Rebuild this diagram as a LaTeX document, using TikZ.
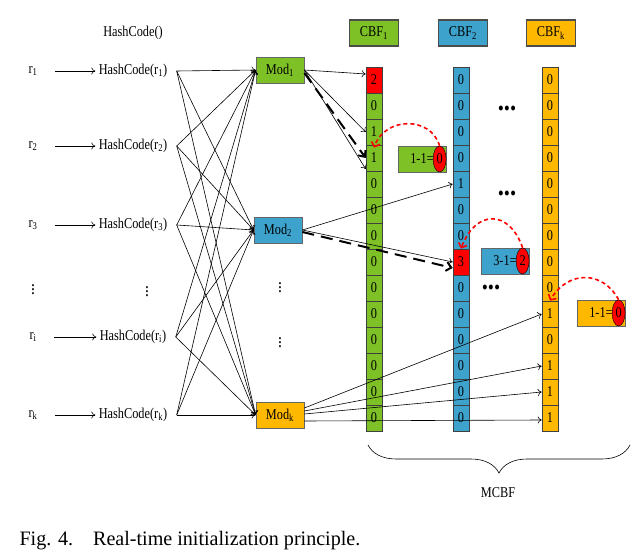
\documentclass[tikz,border=0pt]{standalone}
\usepackage{fontspec}
\setmainfont[FakeStretch=0.82]{Liberation Serif}
\newfontfamily\capfont[FakeStretch=0.98]{Liberation Serif}
\usetikzlibrary{positioning,arrows.meta,shapes.geometric,decorations.pathreplacing}

\definecolor{cbfgreen}{RGB}{126,193,38}
\definecolor{cbfblue}{RGB}{61,163,204}
\definecolor{cbforange}{RGB}{255,184,0}

\tikzset{
  cell/.style={draw=black!75, line width=0.6pt, minimum width=16pt, minimum height=26pt, inner sep=0pt},
  modbox/.style={draw=black!60, line width=0.8pt, minimum width=48pt, minimum height=26pt, inner sep=0pt},
  headbox/.style={draw=black!70, line width=1.2pt, minimum width=49pt, minimum height=26pt, inner sep=0pt},
  resetbox/.style={draw=black!60, line width=0.6pt, minimum width=48pt, minimum height=26pt, inner sep=0pt},
  zero/.style={ellipse, draw=black, fill=red, minimum width=13pt, minimum height=26pt, inner sep=0pt},
  hit/.style={->, line width=0.6pt},
  del/.style={-{Straight Barb[length=5pt,width=9pt]}, line width=2pt, dash pattern=on 12pt off 7pt},
  undo/.style={-{Straight Barb[length=4pt,width=9pt]}, red, line width=1.6pt, dash pattern=on 4pt off 3pt},
  dotrow/.style={font=\fontsize{30}{30}\selectfont\bfseries, inner sep=0pt},
  vdotsnode/.style={font=\fontsize{19}{19}\selectfont, inner sep=0pt}
}

\begin{document}
\begin{tikzpicture}[x=1pt, y=-1pt, >={To[length=4pt,width=7pt]}, font=\fontsize{15}{18}\selectfont, node distance=100pt]
  \useasboundingbox (0,0) rectangle (638,556);

  % keys and hash codes
  \node (hc) at (133,33) {HashCode()};
  \node (r1) at (33,71)  {r\textsubscript{1}};
  \node (r2) at (33,146) {r\textsubscript{2}};
  \node (r3) at (33,225) {r\textsubscript{3}};
  \node[vdotsnode] (rd) at (33,287) {$\vdots$};
  \node (ri) at (33,337) {r\textsubscript{i}};
  \node (rk) at (33,415) {r\textsubscript{k}};
  \node (h1) [right of=r1] {HashCode(r\textsubscript{1})};
  \node (h2) [right of=r2] {HashCode(r\textsubscript{2})};
  \node (h3) [right of=r3] {HashCode(r\textsubscript{3})};
  \node[vdotsnode] (hd) at (147,289)  {$\vdots$};
  \node (hi) [right of=ri] {HashCode(r\textsubscript{i})};
  \node (hk) [right of=rk] {HashCode(r\textsubscript{k})};

  \foreach \r/\h in {r1/h1,r2/h2,r3/h3,ri/hi,rk/hk}
    \draw[hit, shorten <=14pt] (\r.east) -- (\h.west);

  % modulo units
  \node[modbox, fill=cbfgreen]  (m1) at (280,70)  {Mod\textsubscript{1}};
  \node[modbox, fill=cbfblue]   (m2) at (278,230) {Mod\textsubscript{2}};
  \node[modbox, fill=cbforange] (mk) at (280,415) {Mod\textsubscript{k}};
  \node[vdotsnode] (md1) at (280,285) {$\vdots$};
  \node[vdotsnode] (md2) at (280,340) {$\vdots$};

  \foreach \h in {h1,h2,h3,hi,hk}
    \foreach \m in {m1,m2,mk}
      \draw[hit] ([xshift=6pt]\h.east) -- (\m.west);

  % counting bloom filters
  \node[headbox, fill=cbfgreen]  (t1) at (374,33) {CBF\textsubscript{1}};
  \node[headbox, fill=cbfblue]   (t2) at (463,33) {CBF\textsubscript{2}};
  \node[headbox, fill=cbforange] (tk) at (551,33) {CBF\textsubscript{k}};

  \node[cell, fill=red] (a0) at (374,80) {2};
  \foreach \v [count=\i from 1] in {0,1,1,0,0,0,0,0,0,0,0,0,0}
    \node[cell, fill=cbfgreen] (a\i) at (374,80+26*\i) {\v};

  \foreach \v [count=\i from 0] in {0,0,0,0,1,0,0}
    \node[cell, fill=cbfblue] (b\i) at (461,80+26*\i) {\v};
  \node[cell, fill=red] (b7) at (461,262) {3};
  \foreach \i in {8,...,13}
    \node[cell, fill=cbfblue] (b\i) at (461,80+26*\i) {0};

  \foreach \v [count=\i from 0] in {0,0,0,0,0,0,0,0,0,1,0,1,1,1}
    \node[cell, fill=cbforange] (k\i) at (550,80+26*\i) {\v};

  \node[dotrow] (dots1) at (507,108) {...};
  \node[dotrow] (dots2) at (507,193) {...};
  \node[dotrow] (dots3) at (491,287) {...};

  % counters being reset
  \node[resetbox, fill=cbfgreen]  (d1) at (422,159) {1-1=\hspace{11pt}};
  \node[zero, anchor=east] (e1) at (d1.east) {0};
  \node[resetbox, fill=cbfblue]   (d2) at (505,261) {3-1=\hspace{11pt}};
  \node[zero, anchor=east] (e2) at (d2.east) {2};
  \node[resetbox, fill=cbforange] (d3) at (601,313) {1-1=\hspace{11pt}};
  \node[zero, anchor=east] (e3) at (d3.east) {0};

  % mod results into the filters
  \draw[hit] (m1.east) -- ([yshift=6pt]a0.west);
  \draw[hit] (m1.east) -- (a2.west);
  \draw[hit] (m1.east) -- ([yshift=-11pt]a3.west);
  \draw[del] ([yshift=-3pt]m1.east) -- (a3.west);
  \draw[hit] (m2.east) -- (b4.west);
  \draw[hit] (m2.east) -- (b7.west);
  \draw[del] ([yshift=-2pt]m2.east) -- ([yshift=-6pt]b7.west);
  \draw[hit] ([yshift=7pt]mk.east) -- (k9.west);
  \draw[hit] ([yshift=4pt]mk.east) -- (k11.west);
  \draw[hit] ([yshift=1pt]mk.east) -- (k12.west);
  \draw[hit] ([yshift=-6pt]mk.east) -- ([yshift=-2pt]k13.west);

  \draw[undo] (e1.north) .. controls +(-9,-30) and +(11,-31) .. ([yshift=-3pt]a3.north);
  \draw[undo] (e2.north) .. controls +(-13,-38) and +(15,-40) .. (b7.north);
  \draw[undo] (e3.north) .. controls +(-15,-29) and +(18,-31) .. (k9.north);

  % brace and caption
  \coordinate (bl) at (368,445);
  \coordinate (br) at (630,445);
  \draw[decorate, decoration={brace, mirror, amplitude=28pt}, line width=0.6pt] (bl) -- (br);
  \node (mcbf) at (498,493) {MCBF};
  \node[anchor=west, font=\capfont\fontsize{20.5}{24}\selectfont] (cap) at (16,541) {Fig. 4.\hspace{20pt}Real-time initialization principle.};
\end{tikzpicture}
\end{document}
